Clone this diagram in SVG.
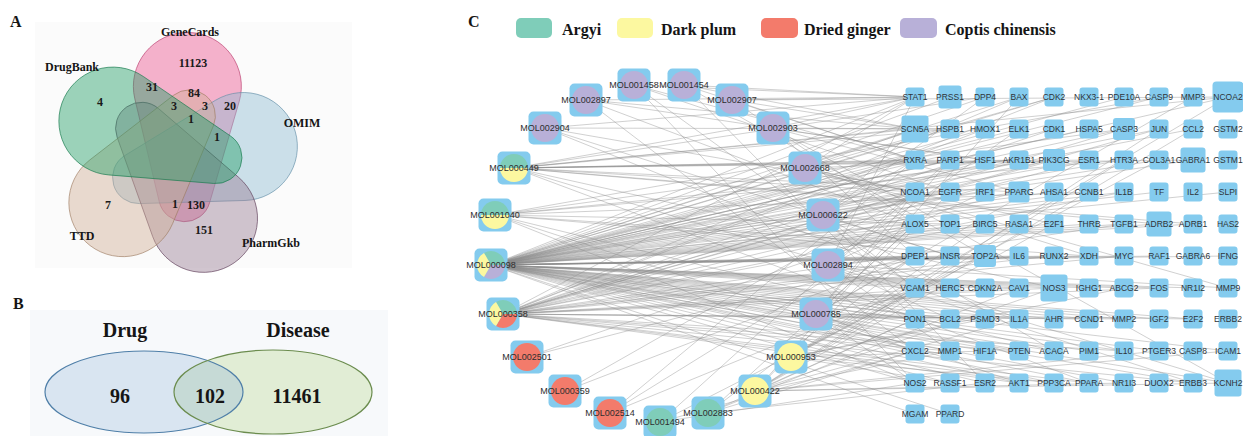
<svg xmlns="http://www.w3.org/2000/svg" xmlns:xlink="http://www.w3.org/1999/xlink" width="1243" height="436" viewBox="0 0 1243 436">
<style>
.t{font-family:"Liberation Serif","Times New Roman",serif;font-weight:bold;fill:#151515}
.n{font-family:"Liberation Serif","Times New Roman",serif;font-weight:bold;font-size:12px;fill:#1a1a1a;text-anchor:middle}
.ml{font-family:"Liberation Sans",Arial,sans-serif;font-size:9px;fill:#2e2e2e;text-anchor:middle}
.gl{font-family:"Liberation Sans",Arial,sans-serif;font-size:8.5px;fill:#2e3338;text-anchor:middle}
.e path{fill:none;stroke:#8a8a8a;stroke-width:.7;stroke-opacity:.58}
.sq{fill:#84cbee}
.te{fill:#7fcdb9}.ye{fill:#fcf8a0}.re{fill:#f37b6b}.la{fill:#b8b0d8}
.v{fill-opacity:.44;stroke-opacity:.75;stroke-width:.8}
</style>
<defs>
<path id="lobe" d="M53.8 -65A54 54 0 1 0 -49.2 -47.7L-5.6 48.6A26 26 0 0 0 44 40.3Z"/>
<rect id="m" class="sq" x="-16.5" y="-16.5" width="33" height="33" rx="5"/>
<rect id="q" class="sq" x="-9.5" y="-9.5" width="19" height="19" rx="3"/>
<clipPath id="dc"><ellipse cx="144" cy="392" rx="99" ry="41"/></clipPath>
</defs>
<rect width="1243" height="436" fill="#ffffff"/>

<!-- Panel A -->
<g id="panelA">
<rect x="35" y="22" width="317" height="246" fill="#fbfbfb"/>
<text class="t" x="10" y="27" font-size="16">A</text>
<g id="set-GeneCards"><use href="#lobe" class="v" fill="#ea528e" stroke="#b83a6c" transform="translate(174 155) rotate(11)"/></g>
<g id="set-OMIM"><use href="#lobe" class="v" fill="#8ebad2" stroke="#5e8aa4" transform="translate(174 155) rotate(83)"/></g>
<g id="set-PharmGkb"><use href="#lobe" class="v" fill="#967a92" stroke="#5e3d58" transform="translate(174 155) rotate(155)"/></g>
<g id="set-TTD"><use href="#lobe" class="v" fill="#d0ac94" stroke="#9c7a60" transform="translate(174 155) rotate(227)"/></g>
<g id="set-DrugBank"><use href="#lobe" class="v" fill="#1f9e64" stroke="#177a4c" transform="translate(174 155) rotate(299)"/></g>
<text class="t" x="190" y="36" font-size="12" text-anchor="middle">GeneCards</text>
<text class="t" x="72" y="71" font-size="12" text-anchor="middle">DrugBank</text>
<text class="t" x="302" y="127" font-size="12" text-anchor="middle">OMIM</text>
<text class="t" x="82" y="240" font-size="12" text-anchor="middle">TTD</text>
<text class="t" x="271" y="247" font-size="12" text-anchor="middle">PharmGkb</text>
<text class="n" x="193" y="67">11123</text>
<text class="n" x="100" y="106">4</text>
<text class="n" x="152" y="91">31</text>
<text class="n" x="194" y="97">84</text>
<text class="n" x="174" y="110">3</text>
<text class="n" x="205" y="110">3</text>
<text class="n" x="230" y="110">20</text>
<text class="n" x="191" y="123">1</text>
<text class="n" x="217" y="141">1</text>
<text class="n" x="108" y="209">7</text>
<text class="n" x="175" y="208">1</text>
<text class="n" x="196" y="209">130</text>
<text class="n" x="204" y="234">151</text>
</g>

<!-- Panel B -->
<g id="panelB">
<rect x="30" y="310" width="358" height="126" fill="#f7f9fb"/>
<text class="t" x="13" y="309" font-size="16">B</text>
<text class="t" x="125" y="337" font-size="20" text-anchor="middle">Drug</text>
<text class="t" x="298" y="337" font-size="20" text-anchor="middle">Disease</text>
<g id="set-Drug"><ellipse cx="144" cy="392" rx="99" ry="41" fill="#d9e5f1"/></g>
<g id="set-Disease"><ellipse cx="273" cy="392" rx="99" ry="42" fill="#e1edd5"/></g>
<ellipse cx="273" cy="392" rx="99" ry="42" fill="#c6dad6" clip-path="url(#dc)"/>
<ellipse cx="144" cy="392" rx="99" ry="41" fill="none" stroke="#4f7fa8" stroke-width="1.2"/>
<ellipse cx="273" cy="392" rx="99" ry="42" fill="none" stroke="#6b8c4e" stroke-width="1.2"/>
<text class="t" x="120" y="403" font-size="20" text-anchor="middle">96</text>
<text class="t" x="210" y="403" font-size="20" text-anchor="middle">102</text>
<text class="t" x="297" y="403" font-size="20" text-anchor="middle">11461</text>
</g>

<!-- Panel C legend -->
<g id="legend">
<text class="t" x="468" y="27" font-size="16">C</text>
<rect class="te" x="516" y="18" width="36" height="20" rx="5"/>
<text class="t" x="562" y="35" font-size="16">Argyi</text>
<rect class="ye" x="617" y="18" width="36" height="20" rx="5"/>
<text class="t" x="661" y="35" font-size="16">Dark plum</text>
<rect class="re" x="761" y="18" width="37" height="20" rx="5"/>
<text class="t" x="804" y="35" font-size="16">Dried ginger</text>
<rect class="la" x="900" y="18" width="37" height="20" rx="5"/>
<text class="t" x="945" y="35" font-size="16">Coptis chinensis</text>
</g>

<!-- connectors -->
<g id="edges" class="e">
<path d="M491 265L915 97M491 265L950 97M491 265L985 97M491 265L1019 97M491 265L1054 97M491 265L1124 97M491 265L1159 97M491 265L1228 97M491 265L915 129M491 265L950 129M491 265L985 129M491 265L1019 129M491 265L1054 129M491 265L1089 129M491 265L1124 129M491 265L1159 129M491 265L1193 129M491 265L915 160M491 265L950 160M491 265L985 160M491 265L1019 160M491 265L1054 160M491 265L1089 160M491 265L1124 160M491 265L1159 160M491 265L1193 160M491 265L915 192M491 265L950 192M491 265L985 192M491 265L1019 192M491 265L1054 192M491 265L1089 192M491 265L1124 192M491 265L1159 192M491 265L1228 192M491 265L915 224M491 265L950 224M491 265L985 224M491 265L1019 224M491 265L1054 224M491 265L1089 224M491 265L1124 224M491 265L1159 224M491 265L1193 224M491 265L915 256M491 265L950 256M491 265L985 256M491 265L1019 256M491 265L1054 256M491 265L1089 256M491 265L1124 256M491 265L1159 256M491 265L1228 256M491 265L915 288M491 265L950 288M491 265L985 288M491 265L1019 288M491 265L1054 288M491 265L1089 288M491 265L1124 288M491 265L1159 288M491 265L1193 288M491 265L915 319M491 265L950 319M491 265L985 319M491 265L1019 319M491 265L1054 319M491 265L1089 319M491 265L1124 319M491 265L1159 319M491 265L1193 319M491 265L915 351M491 265L950 351M491 265L985 351M491 265L1019 351M491 265L1054 351M491 265L1089 351M491 265L1124 351M491 265L1159 351M491 265L1228 351M491 265L915 383M491 265L950 383M491 265L985 383M491 265L1019 383M491 265L1054 383M491 265L1089 383M491 265L1124 383M491 265L1193 383M491 265L1228 383M491 265L915 414M491 265L950 414"/>
<path d="M503 314L915 97M503 314L1019 97M503 314L1054 97M503 314L985 129M503 314L1054 129M503 314L1124 129M503 314L1159 129M503 314L985 160M503 314L1054 160M503 314L1089 160M503 314L915 192M503 314L1019 192M503 314L1124 192M503 314L915 224M503 314L985 224M503 314L1124 224M503 314L950 256M503 314L1019 256M503 314L1054 256M503 314L1124 256M503 314L950 288M503 314L1019 288M503 314L1054 288M503 314L1159 288M503 314L950 319M503 314L1089 319M503 314L1124 319M503 314L950 351M503 314L1019 351M503 314L1124 351M503 314L1019 383M503 314L1054 383M503 314L1089 383M503 314L1193 383"/>
<path d="M514 168L915 97M514 168L985 97M514 168L1228 97M514 168L915 129M514 168L950 129M514 168L915 160M514 168L950 160M514 168L1019 160M514 168L1089 160M514 168L1193 160M514 168L915 192M514 168L1019 192M514 168L1159 224M514 168L1193 224M514 168L1054 288M514 168L1089 383M514 168L1228 383"/>
<path d="M495 215L1159 97M495 215L1124 129M495 215L1054 160M495 215L1124 160M495 215L1089 192M495 215L950 224M495 215L985 256M495 215L1089 256M495 215L915 351M495 215L1054 351M495 215L915 383"/>
<path d="M755 391L1019 97M755 391L1159 129M755 391L1193 129M755 391L1124 160M755 391L950 192M755 391L1054 224M755 391L1054 288M755 391L915 319M755 391L1019 319M755 391L950 351M755 391L1159 351M755 391L1228 351M755 391L1124 383M755 391L1228 383"/>
<path d="M791 357L1228 97M791 357L1159 160M791 357L985 224M791 357L950 256M791 357L915 288M791 357L1124 288M791 357L985 319M791 357L985 351M791 357L950 383M791 357L1054 383"/>
<path d="M708 413L915 224M708 413L915 256M708 413L1019 288M708 413L915 319M708 413L915 351M708 413L985 383M660 422L915 192M660 422L985 256M660 422L915 351M660 422L915 383M610 413L915 160M610 413L915 224M610 413L915 288M565 391L915 192M565 391L915 256M527 357L915 224M527 357L915 256"/>
<path d="M816 314L1193 97M816 314L950 160M816 314L915 192M816 314L915 224M816 314L915 256M816 314L950 288M816 314L985 319M816 314L915 351M816 314L915 383M816 314L1019 383M816 314L1193 319M828 265L915 97M828 265L1019 129M828 265L950 160M828 265L985 192M828 265L915 256M828 265L985 288M828 265L950 319M828 265L950 351M828 265L1193 383M828 265L1228 288"/>
<path d="M823 215L985 97M823 215L915 129M823 215L915 160M823 215L950 192M823 215L915 224M823 215L950 256M823 215L915 288M823 215L985 383M823 215L1054 351M805 168L915 97M805 168L1054 97M805 168L915 129M805 168L1019 160M805 168L915 192M805 168L1054 224M805 168L1089 256M805 168L1228 288"/>
<path d="M773 128L915 97M773 128L950 129M773 128L985 160M773 128L1019 192M773 128L915 256M773 128L1228 383M732 100L915 97M732 100L1228 97M732 100L915 129M732 100L915 160M732 100L915 224M684 85L915 97M684 85L915 129M684 85L915 160M684 85L985 256M684 85L915 319"/>
<path d="M634 85L915 97M634 85L915 160M634 85L950 192M634 85L915 288M634 85L915 383M586 100L915 97M586 100L915 129M586 100L985 160M586 100L915 224M586 100L915 351M545 128L915 97M545 128L950 129M545 128L915 192M545 128L950 256M545 128L1019 319"/>
</g>

<!-- compound nodes -->
<g id="MOL001458"><use href="#m" x="634" y="85"/><circle class="la" cx="634" cy="85" r="14"/><text class="ml" x="634" y="88">MOL001458</text></g>
<g id="MOL001454"><use href="#m" x="684" y="85"/><circle class="la" cx="684" cy="85" r="14"/><text class="ml" x="684" y="88">MOL001454</text></g>
<g id="MOL002897"><use href="#m" x="586" y="100"/><circle class="la" cx="586" cy="100" r="14"/><text class="ml" x="586" y="103">MOL002897</text></g>
<g id="MOL002907"><use href="#m" x="732" y="100"/><circle class="la" cx="732" cy="100" r="14"/><text class="ml" x="732" y="103">MOL002907</text></g>
<g id="MOL002904"><use href="#m" x="545" y="128"/><circle class="la" cx="545" cy="128" r="14"/><text class="ml" x="545" y="131">MOL002904</text></g>
<g id="MOL002903"><use href="#m" x="773" y="128"/><circle class="la" cx="773" cy="128" r="14"/><text class="ml" x="773" y="131">MOL002903</text></g>
<g id="MOL000449"><use href="#m" x="514" y="168"/><path class="te" d="M500 168A14 14 0 0 1 528 168Z"/><path class="ye" d="M528 168A14 14 0 0 1 500 168Z"/><text class="ml" x="514" y="171">MOL000449</text></g>
<g id="MOL002668"><use href="#m" x="805" y="168"/><circle class="la" cx="805" cy="168" r="14"/><text class="ml" x="805" y="171">MOL002668</text></g>
<g id="MOL001040"><use href="#m" x="495" y="215"/><path class="te" d="M481 215A14 14 0 0 1 509 215Z"/><path class="ye" d="M509 215A14 14 0 0 1 481 215Z"/><text class="ml" x="495" y="218">MOL001040</text></g>
<g id="MOL000622"><use href="#m" x="823" y="215"/><circle class="la" cx="823" cy="215" r="14"/><text class="ml" x="823" y="218">MOL000622</text></g>
<g id="MOL000098"><use href="#m" x="491" y="265"/><path class="te" d="M491 265L484 252.9A14 14 0 0 1 505 265Z"/><path class="la" d="M491 265L505 265A14 14 0 0 1 484 277.1Z"/><path class="ye" d="M491 265L484 277.1A14 14 0 0 1 484 252.9Z"/><text class="ml" x="491" y="268">MOL000098</text></g>
<g id="MOL002894"><use href="#m" x="828" y="265"/><circle class="la" cx="828" cy="265" r="14"/><text class="ml" x="828" y="268">MOL002894</text></g>
<g id="MOL000358"><use href="#m" x="503" y="314"/><path class="te" d="M503 314L496 301.9A14 14 0 0 1 517 314Z"/><path class="re" d="M503 314L517 314A14 14 0 0 1 496 326.1Z"/><path class="ye" d="M503 314L496 326.1A14 14 0 0 1 496 301.9Z"/><text class="ml" x="503" y="317">MOL000358</text></g>
<g id="MOL000785"><use href="#m" x="816" y="314"/><circle class="la" cx="816" cy="314" r="14"/><text class="ml" x="816" y="317">MOL000785</text></g>
<g id="MOL002501"><use href="#m" x="527" y="357"/><circle class="re" cx="527" cy="357" r="14"/><text class="ml" x="527" y="360">MOL002501</text></g>
<g id="MOL000953"><use href="#m" x="791" y="357"/><circle class="ye" cx="791" cy="357" r="14"/><text class="ml" x="791" y="360">MOL000953</text></g>
<g id="MOL000359"><use href="#m" x="565" y="391"/><circle class="re" cx="565" cy="391" r="14"/><text class="ml" x="565" y="394">MOL000359</text></g>
<g id="MOL000422"><use href="#m" x="755" y="391"/><circle class="ye" cx="755" cy="391" r="14"/><text class="ml" x="755" y="394">MOL000422</text></g>
<g id="MOL002514"><use href="#m" x="610" y="413"/><circle class="re" cx="610" cy="413" r="14"/><text class="ml" x="610" y="416">MOL002514</text></g>
<g id="MOL002883"><use href="#m" x="708" y="413"/><circle class="te" cx="708" cy="413" r="14"/><text class="ml" x="708" y="416">MOL002883</text></g>
<g id="MOL001494"><use href="#m" x="660" y="422"/><circle class="te" cx="660" cy="422" r="14"/><text class="ml" x="660" y="425">MOL001494</text></g>

<!-- target nodes -->
<g id="g-STAT1"><use href="#q" x="915" y="97"/><text class="gl" x="915" y="100">STAT1</text></g>
<g id="g-PRSS1"><rect class="sq" x="938.5" y="85.5" width="23" height="23" rx="3"/><text class="gl" x="950" y="100">PRSS1</text></g>
<g id="g-DPP4"><use href="#q" x="985" y="97"/><text class="gl" x="985" y="100">DPP4</text></g>
<g id="g-BAX"><use href="#q" x="1019" y="97"/><text class="gl" x="1019" y="100">BAX</text></g>
<g id="g-CDK2"><use href="#q" x="1054" y="97"/><text class="gl" x="1054" y="100">CDK2</text></g>
<g id="g-NKX3-1"><use href="#q" x="1089" y="97"/><text class="gl" x="1089" y="100">NKX3-1</text></g>
<g id="g-PDE10A"><use href="#q" x="1124" y="97"/><text class="gl" x="1124" y="100">PDE10A</text></g>
<g id="g-CASP9"><use href="#q" x="1159" y="97"/><text class="gl" x="1159" y="100">CASP9</text></g>
<g id="g-MMP3"><use href="#q" x="1193" y="97"/><text class="gl" x="1193" y="100">MMP3</text></g>
<g id="g-NCOA2"><rect class="sq" x="1212.5" y="81.5" width="31" height="31" rx="4"/><text class="gl" x="1228" y="100">NCOA2</text></g>

<g id="g-SCN5A"><rect class="sq" x="901.5" y="115.5" width="27" height="27" rx="3"/><text class="gl" x="915" y="132">SCN5A</text></g>
<g id="g-HSPB1"><use href="#q" x="950" y="129"/><text class="gl" x="950" y="132">HSPB1</text></g>
<g id="g-HMOX1"><use href="#q" x="985" y="129"/><text class="gl" x="985" y="132">HMOX1</text></g>
<g id="g-ELK1"><use href="#q" x="1019" y="129"/><text class="gl" x="1019" y="132">ELK1</text></g>
<g id="g-CDK1"><use href="#q" x="1054" y="129"/><text class="gl" x="1054" y="132">CDK1</text></g>
<g id="g-HSPA5"><use href="#q" x="1089" y="129"/><text class="gl" x="1089" y="132">HSPA5</text></g>
<g id="g-CASP3"><rect class="sq" x="1113" y="118" width="22" height="22" rx="3"/><text class="gl" x="1124" y="132">CASP3</text></g>
<g id="g-JUN"><use href="#q" x="1159" y="129"/><text class="gl" x="1159" y="132">JUN</text></g>
<g id="g-CCL2"><use href="#q" x="1193" y="129"/><text class="gl" x="1193" y="132">CCL2</text></g>
<g id="g-GSTM2"><use href="#q" x="1228" y="129"/><text class="gl" x="1228" y="132">GSTM2</text></g>

<g id="g-RXRA"><use href="#q" x="915" y="160"/><text class="gl" x="915" y="163">RXRA</text></g>
<g id="g-PARP1"><use href="#q" x="950" y="160"/><text class="gl" x="950" y="163">PARP1</text></g>
<g id="g-HSF1"><use href="#q" x="985" y="160"/><text class="gl" x="985" y="163">HSF1</text></g>
<g id="g-AKR1B1"><use href="#q" x="1019" y="160"/><text class="gl" x="1019" y="163">AKR1B1</text></g>
<g id="g-PIK3CG"><rect class="sq" x="1043" y="149" width="22" height="22" rx="3"/><text class="gl" x="1054" y="163">PIK3CG</text></g>
<g id="g-ESR1"><use href="#q" x="1089" y="160"/><text class="gl" x="1089" y="163">ESR1</text></g>
<g id="g-HTR3A"><use href="#q" x="1124" y="160"/><text class="gl" x="1124" y="163">HTR3A</text></g>
<g id="g-COL3A1"><use href="#q" x="1159" y="160"/><text class="gl" x="1159" y="163">COL3A1</text></g>
<g id="g-GABRA1"><rect class="sq" x="1180.5" y="147.5" width="25" height="25" rx="3"/><text class="gl" x="1193" y="163">GABRA1</text></g>
<g id="g-GSTM1"><use href="#q" x="1228" y="160"/><text class="gl" x="1228" y="163">GSTM1</text></g>

<g id="g-NCOA1"><use href="#q" x="915" y="192"/><text class="gl" x="915" y="195">NCOA1</text></g>
<g id="g-EGFR"><use href="#q" x="950" y="192"/><text class="gl" x="950" y="195">EGFR</text></g>
<g id="g-IRF1"><use href="#q" x="985" y="192"/><text class="gl" x="985" y="195">IRF1</text></g>
<g id="g-PPARG"><rect class="sq" x="1008.5" y="181.5" width="21" height="21" rx="3"/><text class="gl" x="1019" y="195">PPARG</text></g>
<g id="g-AHSA1"><use href="#q" x="1054" y="192"/><text class="gl" x="1054" y="195">AHSA1</text></g>
<g id="g-CCNB1"><use href="#q" x="1089" y="192"/><text class="gl" x="1089" y="195">CCNB1</text></g>
<g id="g-IL1B"><use href="#q" x="1124" y="192"/><text class="gl" x="1124" y="195">IL1B</text></g>
<g id="g-TF"><use href="#q" x="1159" y="192"/><text class="gl" x="1159" y="195">TF</text></g>
<g id="g-IL2"><use href="#q" x="1193" y="192"/><text class="gl" x="1193" y="195">IL2</text></g>
<g id="g-SLPI"><use href="#q" x="1228" y="192"/><text class="gl" x="1228" y="195">SLPI</text></g>

<g id="g-ALOX5"><use href="#q" x="915" y="224"/><text class="gl" x="915" y="227">ALOX5</text></g>
<g id="g-TOP1"><use href="#q" x="950" y="224"/><text class="gl" x="950" y="227">TOP1</text></g>
<g id="g-BIRC5"><use href="#q" x="985" y="224"/><text class="gl" x="985" y="227">BIRC5</text></g>
<g id="g-RASA1"><use href="#q" x="1019" y="224"/><text class="gl" x="1019" y="227">RASA1</text></g>
<g id="g-E2F1"><use href="#q" x="1054" y="224"/><text class="gl" x="1054" y="227">E2F1</text></g>
<g id="g-THRB"><use href="#q" x="1089" y="224"/><text class="gl" x="1089" y="227">THRB</text></g>
<g id="g-TGFB1"><use href="#q" x="1124" y="224"/><text class="gl" x="1124" y="227">TGFB1</text></g>
<g id="g-ADRB2"><rect class="sq" x="1146.5" y="211.5" width="25" height="25" rx="3"/><text class="gl" x="1159" y="227">ADRB2</text></g>
<g id="g-ADRB1"><use href="#q" x="1193" y="224"/><text class="gl" x="1193" y="227">ADRB1</text></g>
<g id="g-HAS2"><use href="#q" x="1228" y="224"/><text class="gl" x="1228" y="227">HAS2</text></g>

<g id="g-DPEP1"><use href="#q" x="915" y="256"/><text class="gl" x="915" y="259">DPEP1</text></g>
<g id="g-INSR"><use href="#q" x="950" y="256"/><text class="gl" x="950" y="259">INSR</text></g>
<g id="g-TOP2A"><rect class="sq" x="974" y="245" width="22" height="22" rx="3"/><text class="gl" x="985" y="259">TOP2A</text></g>
<g id="g-IL6"><use href="#q" x="1019" y="256"/><text class="gl" x="1019" y="259">IL6</text></g>
<g id="g-RUNX2"><use href="#q" x="1054" y="256"/><text class="gl" x="1054" y="259">RUNX2</text></g>
<g id="g-XDH"><use href="#q" x="1089" y="256"/><text class="gl" x="1089" y="259">XDH</text></g>
<g id="g-MYC"><use href="#q" x="1124" y="256"/><text class="gl" x="1124" y="259">MYC</text></g>
<g id="g-RAF1"><use href="#q" x="1159" y="256"/><text class="gl" x="1159" y="259">RAF1</text></g>
<g id="g-GABRA6"><use href="#q" x="1193" y="256"/><text class="gl" x="1193" y="259">GABRA6</text></g>
<g id="g-IFNG"><use href="#q" x="1228" y="256"/><text class="gl" x="1228" y="259">IFNG</text></g>

<g id="g-VCAM1"><use href="#q" x="915" y="288"/><text class="gl" x="915" y="291">VCAM1</text></g>
<g id="g-HERC5"><use href="#q" x="950" y="288"/><text class="gl" x="950" y="291">HERC5</text></g>
<g id="g-CDKN2A"><use href="#q" x="985" y="288"/><text class="gl" x="985" y="291">CDKN2A</text></g>
<g id="g-CAV1"><use href="#q" x="1019" y="288"/><text class="gl" x="1019" y="291">CAV1</text></g>
<g id="g-NOS3"><rect class="sq" x="1040.5" y="274.5" width="27" height="27" rx="3"/><text class="gl" x="1054" y="291">NOS3</text></g>
<g id="g-IGHG1"><use href="#q" x="1089" y="288"/><text class="gl" x="1089" y="291">IGHG1</text></g>
<g id="g-ABCG2"><use href="#q" x="1124" y="288"/><text class="gl" x="1124" y="291">ABCG2</text></g>
<g id="g-FOS"><use href="#q" x="1159" y="288"/><text class="gl" x="1159" y="291">FOS</text></g>
<g id="g-NR1I2"><use href="#q" x="1193" y="288"/><text class="gl" x="1193" y="291">NR1I2</text></g>
<g id="g-MMP9"><use href="#q" x="1228" y="288"/><text class="gl" x="1228" y="291">MMP9</text></g>

<g id="g-PON1"><use href="#q" x="915" y="319"/><text class="gl" x="915" y="322">PON1</text></g>
<g id="g-BCL2"><use href="#q" x="950" y="319"/><text class="gl" x="950" y="322">BCL2</text></g>
<g id="g-PSMD3"><use href="#q" x="985" y="319"/><text class="gl" x="985" y="322">PSMD3</text></g>
<g id="g-IL1A"><use href="#q" x="1019" y="319"/><text class="gl" x="1019" y="322">IL1A</text></g>
<g id="g-AHR"><use href="#q" x="1054" y="319"/><text class="gl" x="1054" y="322">AHR</text></g>
<g id="g-CCND1"><use href="#q" x="1089" y="319"/><text class="gl" x="1089" y="322">CCND1</text></g>
<g id="g-MMP2"><use href="#q" x="1124" y="319"/><text class="gl" x="1124" y="322">MMP2</text></g>
<g id="g-IGF2"><use href="#q" x="1159" y="319"/><text class="gl" x="1159" y="322">IGF2</text></g>
<g id="g-E2F2"><use href="#q" x="1193" y="319"/><text class="gl" x="1193" y="322">E2F2</text></g>
<g id="g-ERBB2"><use href="#q" x="1228" y="319"/><text class="gl" x="1228" y="322">ERBB2</text></g>

<g id="g-CXCL2"><use href="#q" x="915" y="351"/><text class="gl" x="915" y="354">CXCL2</text></g>
<g id="g-MMP1"><use href="#q" x="950" y="351"/><text class="gl" x="950" y="354">MMP1</text></g>
<g id="g-HIF1A"><use href="#q" x="985" y="351"/><text class="gl" x="985" y="354">HIF1A</text></g>
<g id="g-PTEN"><use href="#q" x="1019" y="351"/><text class="gl" x="1019" y="354">PTEN</text></g>
<g id="g-ACACA"><use href="#q" x="1054" y="351"/><text class="gl" x="1054" y="354">ACACA</text></g>
<g id="g-PIM1"><use href="#q" x="1089" y="351"/><text class="gl" x="1089" y="354">PIM1</text></g>
<g id="g-IL10"><use href="#q" x="1124" y="351"/><text class="gl" x="1124" y="354">IL10</text></g>
<g id="g-PTGER3"><use href="#q" x="1159" y="351"/><text class="gl" x="1159" y="354">PTGER3</text></g>
<g id="g-CASP8"><use href="#q" x="1193" y="351"/><text class="gl" x="1193" y="354">CASP8</text></g>
<g id="g-ICAM1"><use href="#q" x="1228" y="351"/><text class="gl" x="1228" y="354">ICAM1</text></g>

<g id="g-NOS2"><use href="#q" x="915" y="383"/><text class="gl" x="915" y="386">NOS2</text></g>
<g id="g-RASSF1"><use href="#q" x="950" y="383"/><text class="gl" x="950" y="386">RASSF1</text></g>
<g id="g-ESR2"><use href="#q" x="985" y="383"/><text class="gl" x="985" y="386">ESR2</text></g>
<g id="g-AKT1"><use href="#q" x="1019" y="383"/><text class="gl" x="1019" y="386">AKT1</text></g>
<g id="g-PPP3CA"><use href="#q" x="1054" y="383"/><text class="gl" x="1054" y="386">PPP3CA</text></g>
<g id="g-PPARA"><use href="#q" x="1089" y="383"/><text class="gl" x="1089" y="386">PPARA</text></g>
<g id="g-NR1I3"><use href="#q" x="1124" y="383"/><text class="gl" x="1124" y="386">NR1I3</text></g>
<g id="g-DUOX2"><use href="#q" x="1159" y="383"/><text class="gl" x="1159" y="386">DUOX2</text></g>
<g id="g-ERBB3"><use href="#q" x="1193" y="383"/><text class="gl" x="1193" y="386">ERBB3</text></g>
<g id="g-KCNH2"><rect class="sq" x="1214.5" y="369.5" width="27" height="27" rx="3"/><text class="gl" x="1228" y="386">KCNH2</text></g>

<g id="g-MGAM"><use href="#q" x="915" y="414"/><text class="gl" x="915" y="417">MGAM</text></g>
<g id="g-PPARD"><use href="#q" x="950" y="414"/><text class="gl" x="950" y="417">PPARD</text></g>
</svg>
